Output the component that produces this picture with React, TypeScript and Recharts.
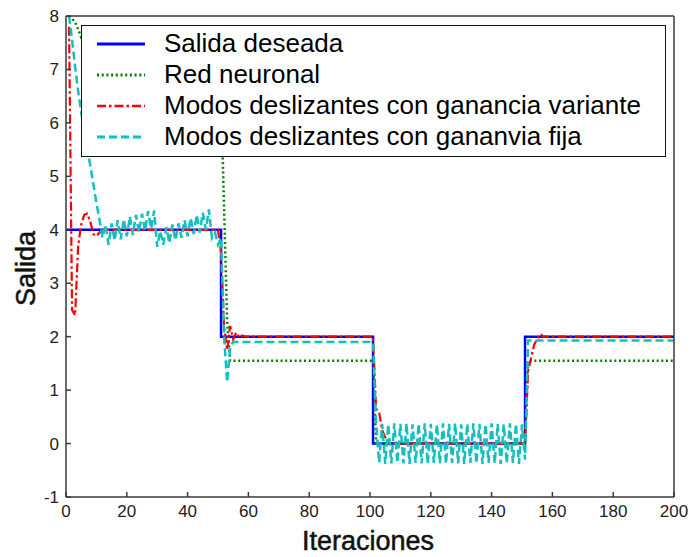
import { LineChart, Line, XAxis, YAxis, Legend } from "recharts";

// la figura ocupa toda la ventana
if (typeof document !== "undefined") document.body.style.margin = "0";

const FONT = '"Liberation Sans", Arial, Helvetica, sans-serif';
const AXIS = "#3a3a3a";

const xTicks = [0, 20, 40, 60, 80, 100, 120, 140, 160, 180, 200];
const yTicks = [-1, 0, 1, 2, 3, 4, 5, 6, 7, 8];

// Salida deseada (escalones)
const iterDeseada = [0, 51, 51, 101, 101, 151, 151, 200];
const salidaDeseada = [4, 4, 2, 2, 0, 0, 2, 2];

// Red neuronal
const iterNeuronal = [1, 2, 3, 4, 5, 50, 51, 52, 53, 54, 101, 102, 151, 152, 200];
const salidaNeuronal = [8.0, 7.95, 7.88, 7.75, 7.6, 7.6, 6.5, 4.4, 2.3, 1.55, 1.55, 0, 0, 1.55, 1.55];

// Modos deslizantes con ganancia variante
const iterVariante = [
  1, 2, 3, 4, 5, 6, 7, 8, 9, 10, 11, 12,
  50, 51, 52, 53, 54, 55, 56, 57, 58, 59,
  101, 102, 103, 104, 105, 106, 107, 108,
  151, 152, 153, 154, 155, 156, 157,
  200,
];
const salidaVariante = [
  7.8, 2.5, 2.4, 3.7, 4.1, 4.28, 4.3, 4.15, 3.92, 3.88, 3.95, 4.0,
  4.0, 3.6, 2.2, 1.75, 2.2, 1.95, 2.08, 1.98, 2.02, 2.0,
  2.0, 0.65, 0.58, 0.25, 0.12, 0.05, 0.02, 0,
  0, 1.35, 1.6, 1.85, 1.95, 2.05, 2.0,
  2.0,
];

// Modos deslizantes con ganancia fija: iteraciones 1..55
const fijaArranque = [
  8.0, 7.55, 7.05, 6.6, 6.2, 5.85, 5.5, 5.2, 4.85, 4.5,
  4.2, 3.85, 4.1, 3.72, 4.12, 3.8, 4.18, 3.82, 4.2, 3.88,
  4.25, 3.9, 4.28, 3.95, 4.3, 3.98, 4.35, 4.02, 4.36, 3.68,
  3.98, 3.72, 4.05, 3.75, 4.1, 3.8, 4.12, 3.85, 4.18, 3.88,
  4.22, 3.92, 4.28, 3.95, 4.32, 4.0, 4.38, 3.85, 3.95, 3.72,
  3.85, 2.0, 1.15, 1.8, 1.9,
];
// iteraciones 100..152
const fijaCero = [
  1.9, 1.9, 0.38, -0.36, 0.37, -0.38, 0.36, -0.37, 0.38, -0.36,
  0.37, -0.37, 0.38, -0.38, 0.36, -0.36, 0.37, -0.37, 0.38, -0.38,
  0.37, -0.36, 0.36, -0.37, 0.38, -0.38, 0.37, -0.36, 0.38, -0.37,
  0.36, -0.38, 0.37, -0.36, 0.38, -0.37, 0.37, -0.38, 0.36, -0.36,
  0.38, -0.37, 0.37, -0.38, 0.36, -0.37, 0.38, -0.36, 0.37, -0.38,
  0.36, -0.3, 1.93,
];
const fijaFinal = { x: 200, y: 1.93 };

const pares = (xs: number[], ys: number[]) => xs.map((x, i) => ({ x, y: ys[i] }));
const seguidos = (inicio: number, ys: number[]) => ys.map((y, i) => ({ x: inicio + i, y }));

const datosDeseada = pares(iterDeseada, salidaDeseada);
const datosNeuronal = pares(iterNeuronal, salidaNeuronal);
const datosVariante = pares(iterVariante, salidaVariante);
const datosFija = [...seguidos(1, fijaArranque), ...seguidos(100, fijaCero), fijaFinal];

const SERIES = [
  { name: "Salida deseada", data: datosDeseada, color: "#0000ff", width: 2.5, dash: undefined as string | undefined },
  { name: "Red neuronal", data: datosNeuronal, color: "#008000", width: 2.5, dash: "2 2.7" },
  { name: "Modos deslizantes con ganancia variante", data: datosVariante, color: "#ff0000", width: 2.2, dash: "9 3 2.5 3" },
  { name: "Modos deslizantes con gananvia fija", data: datosFija, color: "#14bfbf", width: 2.5, dash: "8 4" },
];

function Leyenda() {
  return (
    <div
      style={{
        boxSizing: "border-box",
        width: 585,
        height: 132,
        background: "#fff",
        border: "1.5px solid #111",
        paddingTop: 2,
        fontFamily: FONT,
        fontSize: 26,
        color: "#000",
      }}
    >
      {SERIES.map((s) => (
        <div key={s.name} style={{ display: "flex", alignItems: "center", height: 31 }}>
          <svg width={82} height={10} style={{ flex: "none" }}>
            <line x1={15} x2={63} y1={5} y2={5} stroke={s.color} strokeWidth={s.width + 0.5} strokeDasharray={s.dash} />
          </svg>
          <span style={{ whiteSpace: "nowrap", lineHeight: "31px" }}>{s.name}</span>
        </div>
      ))}
    </div>
  );
}

const tickStyle = { fill: "#222", fontSize: 17, fontFamily: FONT };
const axisLine = { stroke: AXIS, strokeWidth: 1.5 };

export default function App() {
  return (
    <div style={{ background: "#fff", width: 691, height: 557 }}>
      <LineChart width={691} height={557} margin={{ top: 0, right: 0, bottom: 0, left: 0 }}>
        <XAxis
          xAxisId="b"
          type="number"
          dataKey="x"
          orientation="bottom"
          domain={[0, 200]}
          ticks={xTicks}
          interval={0}
          height={60}
          tickSize={-5}
          tickMargin={13}
          axisLine={axisLine}
          tickLine={axisLine}
          tick={tickStyle}
          label={(p: any) => (
            <text
              x={p.viewBox.x + p.viewBox.width / 2 - 2}
              y={550}
              textAnchor="middle"
              fontFamily={FONT}
              fontSize={27}
              fill="#111"
              stroke="#111"
              strokeWidth={0.5}
            >
              Iteraciones
            </text>
          )}
        />
        <XAxis
          xAxisId="t"
          type="number"
          dataKey="x"
          orientation="top"
          domain={[0, 200]}
          ticks={xTicks}
          interval={0}
          height={16}
          tickSize={-5}
          axisLine={axisLine}
          tickLine={axisLine}
          tick={false}
        />
        <YAxis
          yAxisId="l"
          type="number"
          orientation="left"
          domain={[-1, 8]}
          ticks={yTicks}
          interval={0}
          width={66}
          allowDataOverflow
          tickSize={-5}
          tickMargin={12}
          axisLine={axisLine}
          tickLine={axisLine}
          tick={tickStyle}
          label={(p: any) => {
            const cy = p.viewBox.y + p.viewBox.height / 2 + 12;
            return (
              <text
                x={35}
                y={cy}
                transform={`rotate(-90 35 ${cy})`}
                textAnchor="middle"
                fontFamily={FONT}
                fontSize={27}
                fill="#111"
                stroke="#111"
                strokeWidth={0.5}
              >
                Salida
              </text>
            );
          }}
        />
        <YAxis
          yAxisId="r"
          type="number"
          orientation="right"
          domain={[-1, 8]}
          ticks={yTicks}
          interval={0}
          width={17}
          tickSize={-5}
          axisLine={axisLine}
          tickLine={axisLine}
          tick={false}
        />
        {SERIES.map((s) => (
          <Line
            key={s.name}
            xAxisId="b"
            yAxisId="l"
            data={s.data}
            dataKey="y"
            name={s.name}
            type="linear"
            stroke={s.color}
            strokeWidth={s.width}
            strokeDasharray={s.dash}
            dot={false}
            activeDot={false}
            isAnimationActive={false}
          />
        ))}
        <Legend
          layout="vertical"
          align="center"
          verticalAlign="middle"
          content={() => <Leyenda />}
          wrapperStyle={{ left: 81, top: 25, width: 585, height: 132 }}
        />
      </LineChart>
    </div>
  );
}
